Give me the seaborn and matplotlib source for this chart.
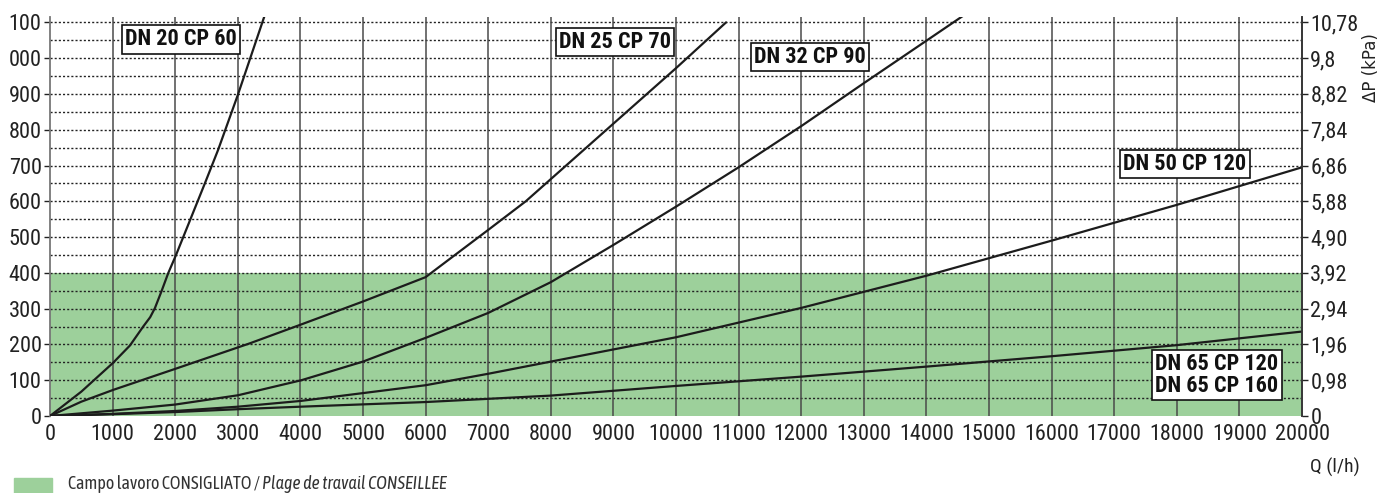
## Perdite di carico - curve DN/CP

import numpy as np
import pandas as pd
import seaborn as sns
import matplotlib.pyplot as plt
from matplotlib import font_manager
from matplotlib.patches import Rectangle

## Dati (Q in l/h, dP in mm c.a.)
q_dn20 = [0, 500, 1010, 1277, 1489, 1600, 1677, 1782, 1888, 2011, 2476, 2684, 3000, 3450]
dp_dn20 = [0, 68, 149, 197, 250, 276, 302, 349, 399, 449, 651, 743, 897, 1130]

q_dn25 = [0, 500, 1010, 2005, 3191, 4000, 5000, 6000, 7000, 7600, 10000, 10800]
dp_dn25 = [0, 40, 73, 132, 203, 255, 320, 388, 520, 600, 972, 1100]

q_dn32 = [0, 1000, 2000, 3005, 4016, 4999, 6010, 7000, 8000, 9000, 10000, 11000, 12000, 13000, 14600]
dp_dn32 = [0, 15, 32, 58, 100, 152, 219, 288, 374, 478, 585, 695, 810, 930, 1120]

q_dn50 = [0, 1000, 2000, 3000, 4000, 6000, 7000, 8000, 10000, 12000, 14000, 16000, 18000, 20000]
dp_dn50 = [0, 6, 14, 26, 42, 86, 118, 152, 220, 302, 392, 490, 590, 695]

q_dn65 = [0, 1000, 2000, 3000, 4000, 6000, 7000, 8000, 10000, 12000, 14000, 16000, 18000, 20000]
dp_dn65 = [0, 5, 11, 19, 26, 39, 48, 57, 84, 110, 138, 167, 198, 236]

## Etichette curve
etichette = ['DN 20 CP 60', 'DN 25 CP 70', 'DN 32 CP 90', 'DN 50 CP 120',
             'DN 65 CP 120\nDN 65 CP 160']
etich_x = [2093, 9026, 12141, 18131, 18642]
etich_y = [1053, 1045, 1003, 704, 115]

## Assi
x_ticks = list(range(0, 20001, 1000))
y_ticks = list(range(0, 1101, 100))
y_labels = ['0', '100', '200', '300', '400', '500', '600', '700', '800', '900', '000', '100']
kpa_ticks = [0, 0.98, 1.96, 2.94, 3.92, 4.90, 5.88, 6.86, 7.84, 8.82, 9.8, 10.78]
kpa_labels = ['0', '0,98', '1,96', '2,94', '3,92', '4,90', '5,88', '6,86', '7,84', '8,82', '9,8', '10,78']
campo_max = 400


## Scelta font condensato
def scegli_font(candidati, grassetto = False):
    for nome in candidati:
        for f in font_manager.fontManager.ttflist:
            if f.name != nome or f.style != 'normal':
                continue
            peso = f.weight if isinstance(f.weight, int) else 400
            if (grassetto and peso >= 700) or (not grassetto and peso <= 500):
                return nome
    return 'DejaVu Sans'


candidati = ['Roboto Condensed', 'PT Sans Narrow', 'Asap Condensed',
             'Barlow Condensed', 'Encode Sans Condensed', 'Archivo Narrow']
font_tick = scegli_font(candidati)
font_bold = scegli_font(candidati, grassetto = True)
font_leg = scegli_font(['Asap Condensed', 'Open Sans Condensed'] + candidati)

## Stile
sns.set_style('white')
plt.rcParams['font.family'] = [font_tick, 'DejaVu Sans']
verde = '#9dd09b'
nero = '#1c1c1c'

fig = plt.figure(figsize = (13.83, 4.93), dpi = 100)
ax = fig.add_axes([50 / 1383, 77 / 493, 1252 / 1383, 399 / 493])

# Campo di lavoro consigliato
ax.axhspan(0, campo_max, color = verde, zorder = 0, lw = 0)

# Griglia
for yv in np.arange(50, 1101, 50):
    ax.axhline(yv, color = '#222222', lw = 1.0, ls = (0, (1.5, 1.5)), zorder = 1)
for xv in x_ticks[1:-1]:
    ax.axvline(xv, color = '#4a4a4a', lw = 1.1, zorder = 1)

# Curve
curve = pd.concat([
    pd.DataFrame({'Q': q_dn20, 'dP': dp_dn20, 'serie': 'DN 20'}),
    pd.DataFrame({'Q': q_dn25, 'dP': dp_dn25, 'serie': 'DN 25'}),
    pd.DataFrame({'Q': q_dn32, 'dP': dp_dn32, 'serie': 'DN 32'}),
    pd.DataFrame({'Q': q_dn50, 'dP': dp_dn50, 'serie': 'DN 50'}),
    pd.DataFrame({'Q': q_dn65, 'dP': dp_dn65, 'serie': 'DN 65'}),
])
for nome, dati in curve.groupby('serie'):
    sns.lineplot(data = dati, x = 'Q', y = 'dP', ax = ax, color = nero,
                 lw = 1.6, sort = False, legend = False, zorder = 3)

# Etichette
for testo, xe, ye in zip(etichette, etich_x, etich_y):
    ax.text(xe, ye, testo, ha = 'center', va = 'center', fontsize = 16,
            fontweight = 'bold', family = [font_bold, 'DejaVu Sans'],
            color = '#111111', linespacing = 1.0, zorder = 5,
            bbox = dict(boxstyle = 'square,pad=0.15', fc = 'white',
                        ec = '#111111', lw = 1.2))

ax.set_xlim(0, 20000)
ax.set_ylim(0, 1115)
ax.set_xticks(x_ticks)
ax.set_xticklabels([str(v) for v in x_ticks])
ax.set_yticks(y_ticks)
ax.set_yticklabels(y_labels)
ax.set_xlabel('')
ax.set_ylabel('')
ax.tick_params(axis = 'both', labelsize = 16, colors = '#222222',
               length = 4, width = 1, direction = 'out', pad = 2)

for lato in ['top', 'bottom']:
    ax.spines[lato].set_visible(False)
for lato in ['left', 'right']:
    ax.spines[lato].set_color('#777777')
    ax.spines[lato].set_linewidth(1.3)

# Asse destro kPa
ax2 = ax.twinx()
ax2.set_ylim(0, 1115 * 0.0098)
ax2.set_yticks(kpa_ticks)
ax2.set_yticklabels(kpa_labels)
ax2.tick_params(axis = 'y', labelsize = 16, colors = '#222222',
                length = 4, width = 1, pad = 2)
for lato in ['top', 'bottom', 'left']:
    ax2.spines[lato].set_visible(False)
ax2.spines['right'].set_color('#333333')
ax2.spines['right'].set_linewidth(1.3)

# Titoli assi
fig.text(1371 / 1383, 1 - 68 / 493, '\u0394P (kPa)', rotation = 90,
         ha = 'center', va = 'center', fontsize = 12, family = ['DejaVu Sans'],
         color = '#222222')
fig.text(1335 / 1383, 1 - 467 / 493, 'Q (l/h)', ha = 'center', va = 'center',
         fontsize = 14, color = '#222222')

# Legenda campo di lavoro
fig.patches.append(Rectangle((14 / 1383, 0), 38 / 1383, 15 / 493,
                             transform = fig.transFigure, color = verde))
t1 = fig.text(68 / 1383, 4 / 493, 'Campo lavoro CONSIGLIATO / ', fontsize = 13,
              color = '#333333', va = 'baseline', family = [font_leg, 'DejaVu Sans'])
fig.canvas.draw()
bb = t1.get_window_extent()
fig.text(bb.x1 / 1383, 4 / 493, 'Plage de travail CONSEILLEE', fontsize = 13,
         style = 'italic', color = '#333333', va = 'baseline',
         family = [font_leg, 'DejaVu Sans'])

# Salvando
plt.savefig('out.png', dpi = 100)
